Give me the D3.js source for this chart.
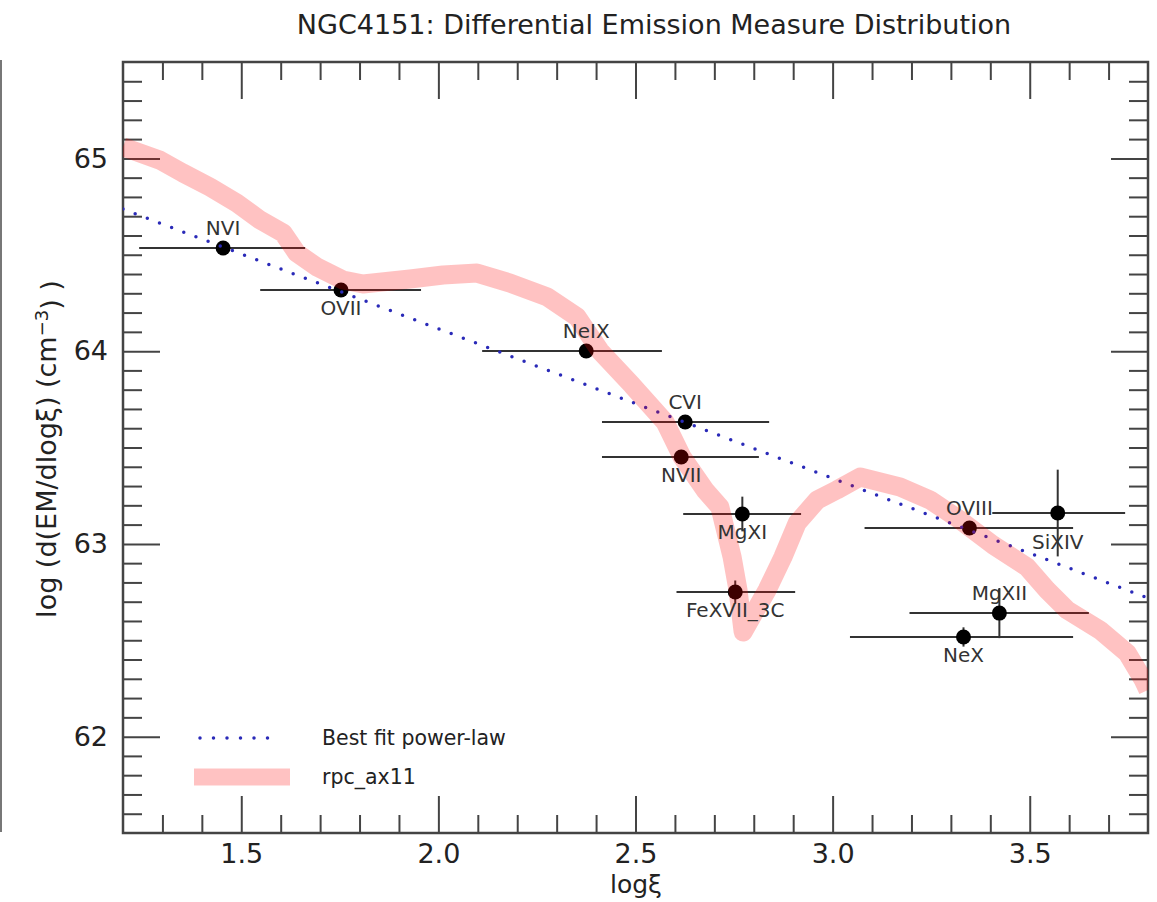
<!DOCTYPE html>
<head>
  <meta charset="utf-8">
  <script src="https://d3js.org/d3.v7.min.js"></script>
  <style>
    body {
      margin: 0;
      background-color: #fff;
    }
    svg text {
      font-family: "DejaVu Sans", sans-serif;
      fill: #222;
    }
    .axis path {
      display: none;
    }
    .axis line {
      stroke: #444;
      stroke-width: 2px;
    }
  </style>
</head>

<body>
  <script>
    // Lines measured in the plot (x = log xi, y = log DEM)
    var lineNames = ["NVI", "OVII", "NeIX", "CVI", "NVII", "MgXI", "FeXVII_3C", "OVIII", "SiXIV", "MgXII", "NeX"];
    var lineX = [1.454, 1.753, 2.375, 2.626, 2.616, 2.771, 2.753, 3.347, 3.571, 3.423, 3.332];
    var lineY = [64.535, 64.317, 64.001, 63.632, 63.451, 63.155, 62.750, 63.082, 63.160, 62.641, 62.517];
    var lineXLo = [1.241, 1.548, 2.111, 2.415, 2.415, 2.621, 2.604, 3.081, 3.405, 3.195, 3.044];
    var lineXHi = [1.662, 1.956, 2.567, 2.839, 2.813, 2.920, 2.905, 3.610, 3.742, 3.650, 3.610];
    var lineYErr = [0, 0, 0, 0, 0, 0.09, 0.06, 0, 0.225, 0.13, 0.05];
    var labelSide = ["above", "below", "above", "above", "below", "below", "below", "above", "below", "above", "below"];

    // Best fit power-law (straight in log-log)
    var fitX = [1.2, 3.8];
    var fitY = [64.737, 62.719];

    // rpc_ax11 model curve
    var modelX = [1.200, 1.294, 1.352, 1.421, 1.489, 1.548, 1.606, 1.641, 1.692, 1.758, 1.809, 1.928, 2.012, 2.098,
                  2.182, 2.276, 2.352, 2.410, 2.491, 2.575, 2.618, 2.676, 2.714, 2.745, 2.760, 2.773, 2.834, 2.874,
                  2.910, 2.961, 3.011, 3.070, 3.171, 3.247, 3.323, 3.407, 3.493, 3.544, 3.595, 3.678, 3.747, 3.788, 3.800];
    var modelY = [65.059, 64.990, 64.924, 64.851, 64.768, 64.680, 64.613, 64.509, 64.436, 64.369, 64.348, 64.374, 64.395, 64.405,
                  64.353, 64.281, 64.177, 64.001, 63.824, 63.632, 63.451, 63.280, 63.191, 62.932, 62.761, 62.543, 62.761, 62.932,
                  63.108, 63.228, 63.280, 63.347, 63.295, 63.228, 63.124, 62.994, 62.880, 62.761, 62.657, 62.553, 62.434, 62.294, 62.242];

    // Axis ticks
    var xMajor = [1.5, 2.0, 2.5, 3.0, 3.5];
    var yMajor = [62, 63, 64, 65];
    var legendLabels = ["Best fit power-law", "rpc_ax11"];

    var width = 1157,
        height = 902;
    var margin = { top: 62, left: 123, right: 9, bottom: 69 };
    var w = width - margin.left - margin.right,
        h = height - margin.top - margin.bottom;

    var svg = d3.select("body").append("svg")
        .attr("width", width)
        .attr("height", height);

    // left edge of a neighbouring panel, cut off in the figure
    svg.append("line")
        .attr("x1", 1).attr("x2", 1)
        .attr("y1", 60).attr("y2", 832)
        .attr("stroke", "#777")
        .attr("stroke-width", 2);

    svg.append("clipPath").attr("id", "clip")
      .append("rect")
        .attr("width", w)
        .attr("height", h);

    var g = svg.append("g")
        .attr("transform", "translate(" + margin.left + "," + margin.top + ")");

    var x = d3.scaleLinear().domain([1.2, 3.8]).range([0, w]);
    var y = d3.scaleLinear().domain([61.5, 65.5]).range([h, 0]);

    var xMinor = d3.range(13, 38).map(function(d) { return d / 10; })
        .filter(function(d) { return xMajor.indexOf(d) < 0; });
    var yMinor = d3.range(616, 655).map(function(d) { return d / 10; })
        .filter(function(d) { return yMajor.indexOf(d) < 0; });

    // axes: ticks point inward on all four sides
    g.append("g").attr("class", "axis")
        .attr("transform", "translate(0," + h + ")")
        .call(d3.axisBottom(x).tickValues(xMajor).tickSize(-37).tickPadding(11).tickFormat(d3.format(".1f")))
        .selectAll("text").style("font-size", "27px");
    g.append("g").attr("class", "axis")
        .attr("transform", "translate(0," + h + ")")
        .call(d3.axisBottom(x).tickValues(xMinor).tickSize(-18).tickFormat(""));
    g.append("g").attr("class", "axis")
        .call(d3.axisTop(x).tickValues(xMajor).tickSize(-37).tickFormat(""));
    g.append("g").attr("class", "axis")
        .call(d3.axisTop(x).tickValues(xMinor).tickSize(-18).tickFormat(""));

    g.append("g").attr("class", "axis")
        .call(d3.axisLeft(y).tickValues(yMajor).tickSize(-37).tickPadding(15).tickFormat(d3.format("d")))
        .selectAll("text").style("font-size", "27px");
    g.append("g").attr("class", "axis")
        .call(d3.axisLeft(y).tickValues(yMinor).tickSize(-19).tickFormat(""));
    g.append("g").attr("class", "axis")
        .attr("transform", "translate(" + w + ",0)")
        .call(d3.axisRight(y).tickValues(yMajor).tickSize(-37).tickFormat(""));
    g.append("g").attr("class", "axis")
        .attr("transform", "translate(" + w + ",0)")
        .call(d3.axisRight(y).tickValues(yMinor).tickSize(-19).tickFormat(""));

    g.append("rect")
        .attr("width", w).attr("height", h)
        .attr("fill", "none")
        .attr("stroke", "#444")
        .attr("stroke-width", 2.5);

    var plot = g.append("g").attr("clip-path", "url(#clip)");

    // error bars
    var eb = plot.selectAll(".eb").data(lineNames).enter().append("g").attr("class", "eb");
    eb.append("line")
        .attr("x1", function(d, i) { return x(lineXLo[i]); })
        .attr("x2", function(d, i) { return x(lineXHi[i]); })
        .attr("y1", function(d, i) { return y(lineY[i]); })
        .attr("y2", function(d, i) { return y(lineY[i]); })
        .attr("stroke", "#333").attr("stroke-width", 2);
    eb.filter(function(d, i) { return lineYErr[i] > 0; })
      .append("line")
        .attr("x1", function(d) { return x(lineX[lineNames.indexOf(d)]); })
        .attr("x2", function(d) { return x(lineX[lineNames.indexOf(d)]); })
        .attr("y1", function(d) { var i = lineNames.indexOf(d); return y(lineY[i] - lineYErr[i]); })
        .attr("y2", function(d) { var i = lineNames.indexOf(d); return y(lineY[i] + lineYErr[i]); })
        .attr("stroke", "#333").attr("stroke-width", 2);

    plot.selectAll(".pt").data(lineNames).enter().append("circle")
        .attr("class", "pt")
        .attr("cx", function(d, i) { return x(lineX[i]); })
        .attr("cy", function(d, i) { return y(lineY[i]); })
        .attr("r", 7.5)
        .attr("fill", "#000");

    // best fit
    var line = d3.line()
        .x(function(d) { return x(d[0]); })
        .y(function(d) { return y(d[1]); });

    plot.append("path")
        .datum(d3.zip(fitX, fitY))
        .attr("d", line)
        .attr("fill", "none")
        .attr("stroke", "#2a2ab8")
        .attr("stroke-width", 3.5)
        .attr("stroke-linecap", "round")
        .attr("stroke-dasharray", "0,13");

    // model band, semi-transparent on top
    plot.append("path")
        .datum(d3.zip(modelX, modelY))
        .attr("d", line)
        .attr("fill", "none")
        .attr("stroke", "red")
        .attr("stroke-opacity", 0.24)
        .attr("stroke-width", 19)
        .attr("stroke-linejoin", "round");

    // line labels
    plot.selectAll(".lbl").data(lineNames).enter().append("text")
        .attr("class", "lbl")
        .attr("x", function(d, i) { return x(lineX[i]); })
        .attr("y", function(d, i) {
          var off = labelSide[i] === "above" ? -13 : 25;
          if (d === "SiXIV") off = 36;
          return y(lineY[i]) + off;
        })
        .attr("text-anchor", "middle")
        .style("font-size", "20px")
        .style("fill", "#333")
        .text(function(d) { return d; });

    // legend
    var leg = g.append("g").attr("transform", "translate(71,676)");
    leg.append("line")
        .attr("x1", 6).attr("x2", 80).attr("y1", 0).attr("y2", 0)
        .attr("stroke", "#2a2ab8").attr("stroke-width", 3.5)
        .attr("stroke-linecap", "round").attr("stroke-dasharray", "0,13.5");
    leg.append("line")
        .attr("x1", 0).attr("x2", 96).attr("y1", 39).attr("y2", 39)
        .attr("stroke", "red").attr("stroke-opacity", 0.24).attr("stroke-width", 17);
    leg.selectAll(".lt").data(legendLabels).enter().append("text")
        .attr("x", 128)
        .attr("y", function(d, i) { return i * 39; })
        .attr("dy", "0.35em")
        .style("font-size", "20.5px")
        .text(function(d) { return d; });

    // titles
    svg.append("text")
        .attr("x", 654).attr("y", 34)
        .attr("text-anchor", "middle")
        .style("font-size", "27px")
        .text("NGC4151: Differential Emission Measure Distribution");

    svg.append("text")
        .attr("x", 636).attr("y", 893)
        .attr("text-anchor", "middle")
        .style("font-size", "25px")
        .text("log\u03BE");

    var yl = svg.append("text")
        .attr("transform", "translate(56,449) rotate(-90)")
        .attr("text-anchor", "middle")
        .style("font-size", "27px");
    yl.append("tspan").text("log (d(EM/dlog\u03BE) (cm");
    yl.append("tspan").attr("dy", "-0.45em").style("font-size", "18px").text("\u22123");
    yl.append("tspan").attr("dy", "0.45em").text(") )");
  </script>
</body>
